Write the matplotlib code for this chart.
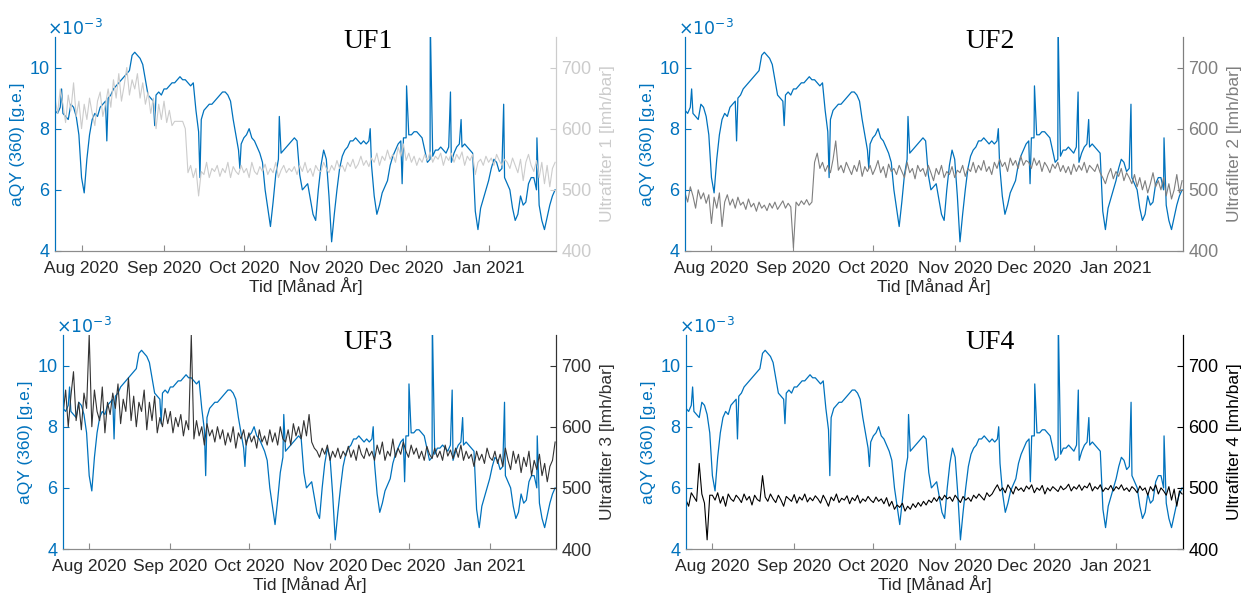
import pandas as pd
import matplotlib
matplotlib.use('Agg')
import matplotlib.pyplot as plt
import matplotlib.dates as mdates

plt.rcParams['font.family'] = ['Liberation Sans', 'DejaVu Sans']

# daily samples, first day 2020-07-22
start_date = '2020-07-22'

# aQY (360) in units of 1e-3 [g.e.], shared by all four panels
aqy_1e3 = [
    8.6, 8.5, 8.7, 8.5, 8.4, 8.3, 8.8, 8.7, 8.4, 7.8,
    6.4, 5.9, 7.0, 7.8, 8.3, 8.5, 8.4, 8.7, 8.8, 8.9,
    9.0, 9.1, 9.3, 9.4, 9.5, 9.6, 9.7, 9.8, 9.9, 10.4,
    10.5, 10.4, 10.3, 10.1, 9.6, 9.1, 9.0, 8.9, 9.1, 9.2,
    9.1, 9.3, 9.3, 9.4, 9.5, 9.5, 9.6, 9.7, 9.6, 9.6,
    9.5, 9.4, 9.5, 8.6, 7.9, 8.3, 8.6, 8.7, 8.8, 8.8,
    8.9, 9.0, 9.1, 9.2, 9.2, 9.1, 8.9, 8.3, 7.8, 7.3,
    7.5, 7.7, 7.8, 8.0, 7.7, 7.6, 7.4, 7.2, 6.9, 6.0,
    5.4, 4.8, 5.6, 6.5, 7.0, 7.2, 7.3, 7.4, 7.5, 7.6,
    7.7, 7.6, 6.5, 6.0, 6.1, 6.2, 5.7, 5.2, 5.0, 6.0,
    6.8, 7.3, 7.0, 5.8, 4.3, 5.2, 6.0, 6.7, 7.1, 7.3,
    7.4, 7.6, 7.6, 7.7, 7.6, 7.5, 7.6, 7.5, 7.6, 6.8,
    5.8, 5.2, 5.5, 5.9, 6.1, 6.3, 6.8, 7.1, 7.3, 7.5,
    7.6, 7.7, 7.7, 7.8, 7.8, 7.9, 7.9, 7.8, 7.7, 7.3,
    6.9, 7.0, 7.1, 7.3, 7.3, 7.4, 7.3, 7.2, 7.4, 6.9,
    7.2, 7.4, 7.5, 7.4, 7.5, 7.4, 7.3, 7.2, 5.3, 4.7,
    5.4, 5.7, 6.0, 6.3, 6.7, 7.0, 6.9, 6.6, 6.7, 6.4,
    6.2, 6.0, 5.4, 5.0, 5.2, 5.8, 5.5, 5.6, 6.2, 6.4,
    6.4, 6.0, 5.5, 5.0, 4.7, 5.1, 5.5, 5.8, 6.0,
]

# short spikes in the aQY signal
spike_times = ['2020-07-24 12:00', '2020-08-10 12:00', '2020-08-28 12:00',
               '2020-09-14 12:00', '2020-09-29 12:00', '2020-10-14 08:00',
               '2020-11-17 12:00', '2020-11-29 12:00', '2020-12-01 04:00',
               '2020-12-10 02:00', '2020-12-17 16:00', '2020-12-21 16:00',
               '2021-01-06 16:00', '2021-01-19 04:00']
spike_values = [9.3, 7.6, 8.1, 6.4, 6.7, 8.4, 8.0, 6.2, 9.4, 11.5, 9.2, 8.3, 8.8, 7.7]

# permeability of each ultrafilter [lmh/bar]
uf1 = [
    650, 625, 665, 640, 610, 655, 630, 675, 620, 645,
    600, 640, 615, 650, 625, 605, 645, 660, 620, 640,
    665, 635, 680, 650, 690, 645, 670, 700, 655, 680,
    665, 690, 650, 675, 640, 660, 625, 650, 600, 640,
    615, 645, 610, 630, 605, 612, 612, 612, 612, 600,
    528, 540, 520, 535, 490, 530, 525, 545, 520, 535,
    530, 540, 522, 535, 528, 545, 520, 538, 530, 525,
    540, 528, 535, 520, 545, 530, 525, 538, 530, 542,
    525, 535, 528, 545, 520, 532, 540, 528, 535, 530,
    538, 525, 540, 530, 545, 528, 535, 522, 540, 532,
    530, 545, 535, 528, 540, 532, 548, 535, 540, 530,
    545, 538, 550, 535, 542, 555, 540, 548, 538, 552,
    545, 560, 540, 555, 548, 565, 550, 558, 545, 570,
    555, 575, 548, 560, 545, 555, 540, 552, 545, 558,
    548, 562, 545, 555, 550, 560, 540, 555, 548, 560,
    545, 558, 550, 562, 540, 555, 548, 558, 525, 545,
    550, 540, 555, 545, 552, 540, 558, 548, 540, 550,
    545, 535, 552, 540, 528, 550, 515, 545, 558, 540,
    530, 548, 520, 545, 510, 540, 505, 535, 545,
]
uf2 = [
    495, 480, 505, 490, 470, 500, 485, 495, 478, 492,
    445, 488, 470, 495, 440, 480, 492, 475, 485, 470,
    488, 475, 480, 468, 485, 472, 478, 465, 480, 470,
    475, 466, 478, 470, 480, 468, 475, 482, 470, 478,
    472, 405, 480, 474, 482, 476, 484, 475, 480, 545,
    560, 535, 545, 530, 540, 528, 550, 580, 532, 540,
    528, 545, 535, 525, 540, 530, 548, 522, 538, 530,
    540, 525, 535, 548, 528, 538, 520, 542, 530, 535,
    525, 540, 530, 520, 545, 528, 535, 518, 540, 530,
    535, 522, 540, 528, 515, 535, 525, 540, 520, 530,
    525, 538, 520, 532, 528, 540, 522, 535, 530, 545,
    528, 540, 532, 548, 530, 538, 525, 545, 535, 550,
    538, 545, 530, 552, 540, 548, 535, 555, 540, 548,
    545, 535, 552, 540, 548, 530, 545, 538, 528, 542,
    535, 545, 530, 540, 528, 538, 525, 542, 530, 540,
    532, 545, 528, 540, 535, 530, 542, 528, 520, 510,
    525, 535, 518, 530, 522, 535, 515, 528, 520, 510,
    525, 505, 520, 500, 515, 495, 510, 528, 505, 515,
    500, 520, 490, 510, 485, 500, 525, 495, 515,
]
uf3 = [
    620, 660, 600, 650, 690, 610, 640, 595, 655, 630,
    750, 600, 660, 625, 610, 665, 590, 640, 620, 655,
    630, 670, 605, 645, 625, 680, 610, 650, 600, 640,
    625, 660, 595, 640, 610, 650, 590, 615, 600, 630,
    605, 625, 590, 615, 600, 620, 585, 610, 595, 750,
    580, 610, 585, 600, 570, 605, 585, 595, 575, 600,
    580, 595, 570, 590, 575, 600, 565, 590, 580, 595,
    570, 590, 575, 585, 565, 595, 575, 585, 570, 595,
    575, 590, 570, 600, 580, 575, 595, 570, 605, 585,
    600, 580, 610, 585, 620, 575, 565, 560, 550, 565,
    555, 570, 545, 560, 550, 565, 548, 560, 552, 568,
    550, 562, 545, 570, 555, 548, 565, 552, 560, 545,
    570, 555, 575, 545, 560, 552, 580, 550, 565, 555,
    575, 560, 550, 570, 555, 565, 548, 560, 545, 568,
    555, 548, 565, 550, 560, 545, 570, 552, 562, 548,
    565, 550, 570, 545, 560, 548, 555, 535, 560, 545,
    555, 540, 565, 550, 545, 560, 540, 555, 535, 565,
    545, 530, 560, 540, 555, 525, 550, 535, 560, 520,
    545, 530, 555, 520, 540, 510, 535, 545, 575,
]
uf4 = [
    480, 470, 492, 485, 478, 540, 490, 475, 415, 488,
    488, 480, 492, 475, 486, 470, 490, 482, 478, 488,
    483, 476, 490, 480, 486, 472, 488, 481, 478, 520,
    485, 478, 490, 482, 476, 488, 480, 470, 486, 482,
    478, 489, 475, 485, 480, 490, 477, 484, 479, 487,
    482, 475, 488, 480, 470, 485, 479, 490, 476, 483,
    480, 487, 474, 484, 479, 488, 475, 482, 478, 486,
    480, 476, 485, 478, 482, 474, 484, 470, 478, 465,
    472, 468, 475, 462, 470, 465, 474, 468, 476, 470,
    478, 472, 480, 476, 484, 478, 486, 480, 488, 482,
    485, 478, 488, 482, 476, 486, 480, 484, 478, 488,
    483, 490, 485, 480, 492, 486, 490, 498, 505, 495,
    500, 492, 505, 498, 490, 502, 496, 500, 494, 503,
    498, 505, 492, 500, 496, 504, 490, 500, 495, 502,
    498, 494, 503, 497, 500, 506, 495, 502, 498, 505,
    496, 503, 500, 508, 495, 502, 498, 505, 494, 500,
    497, 504, 495, 502, 498, 505, 496, 500, 494, 502,
    498, 492, 503, 496, 500, 488, 502, 495, 505, 490,
    500, 495, 488, 502, 480, 498, 470, 495, 490,
]

uf_series = [uf1, uf2, uf3, uf4]
uf_colors = ['#cccccc', '#7f7f7f', '#333333', '#000000']
uf_titles = ['UF1', 'UF2', 'UF3', 'UF4']

BLUE = '#0072BD'
AXGRAY = '#8c8c8c'

days = pd.date_range(start_date, periods=len(aqy_1e3), freq='D')
aqy = pd.concat([pd.Series(aqy_1e3, index=days),
                 pd.Series(spike_values, index=pd.to_datetime(spike_times))]).sort_index()

fig = plt.figure(figsize=(12.43, 5.98), dpi=100)
boxes = [
    [0.0442, 0.5803, 0.4031, 0.3579],
    [0.5511, 0.5803, 0.4006, 0.3579],
    [0.0507, 0.0819, 0.3966, 0.3579],
    [0.5519, 0.0819, 0.3998, 0.3579],
]
title_pos = [(0.625, 0.981), (0.612, 0.981), (0.619, 0.965), (0.612, 0.965)]

x0 = pd.Timestamp('2020-07-22')
x1 = pd.Timestamp('2021-01-26 08:00')

for i in range(4):
    ax = fig.add_axes(boxes[i])
    ax.plot(aqy.index, aqy.values, color=BLUE, lw=0.9)
    ax.set_xlim(x0, x1)
    ax.set_ylim(4, 11)
    ax.set_yticks([4, 6, 8, 10])
    ax.set_ylabel('aQY (360) [g.e.]', color=BLUE, fontsize=12.5, labelpad=3)
    ax.set_xlabel('Tid [Månad År]', fontsize=12.5, color='#262626', labelpad=1)
    ax.xaxis.set_major_locator(mdates.MonthLocator())
    ax.xaxis.set_major_formatter(mdates.DateFormatter('%b %Y'))
    ax.tick_params(axis='x', direction='in', length=4, labelsize=12.5,
                   colors=AXGRAY, labelcolor='#262626', pad=7)
    ax.tick_params(axis='y', direction='in', length=4, labelsize=13,
                   colors=BLUE, labelcolor=BLUE, pad=4)
    ax.text(-0.015, 0.995, r'$\times10^{-3}$', transform=ax.transAxes,
            color=BLUE, fontsize=12.5, ha='left', va='bottom')

    color = uf_colors[i]
    ax2 = ax.twinx()
    ax2.plot(days, uf_series[i], color=color, lw=0.8)
    ax2.set_xlim(x0, x1)
    ax2.set_ylim(400, 750)
    ax2.set_yticks([400, 500, 600, 700])
    ax2.set_ylabel('Ultrafilter %d [lmh/bar]' % (i + 1), color=color,
                   fontsize=12.5, labelpad=6)
    ax2.tick_params(axis='y', direction='in', length=4, labelsize=13,
                    colors=color, labelcolor=color, pad=4)

    for a in (ax, ax2):
        a.spines['top'].set_visible(False)
        a.spines['bottom'].set_color(AXGRAY)
        a.spines['left'].set_color(BLUE)
        a.spines['right'].set_color(color)
        a.patch.set_visible(False)

    ax2.text(title_pos[i][0], title_pos[i][1], uf_titles[i], transform=ax.transAxes,
             family='Liberation Serif', fontsize=20, ha='center', va='center')

fig.savefig('out.png', dpi=100)
